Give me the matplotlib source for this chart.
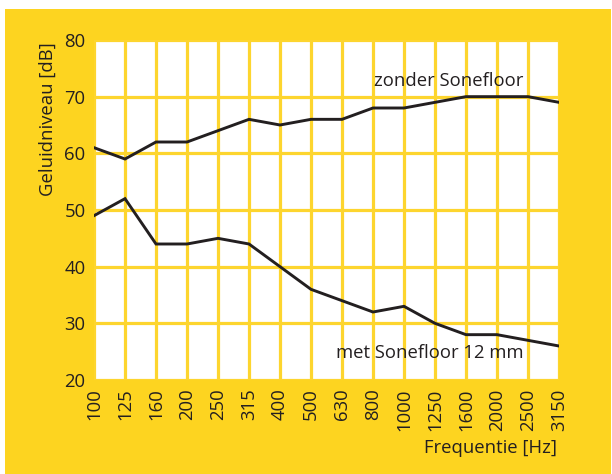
import matplotlib
matplotlib.use("Agg")
import matplotlib.pyplot as plt
from matplotlib.patches import Rectangle

frequencies = ["100", "125", "160", "200", "250", "315", "400", "500", "630",
               "800", "1000", "1250", "1600", "2000", "2500", "3150"]
zonder = [61, 59, 62, 62, 64, 66, 65, 66, 66, 68, 68, 69, 70, 70, 70, 69]
met = [49, 52, 44, 44, 45, 44, 40, 36, 34, 32, 33, 30, 28, 28, 27, 26]
y_ticks = [20, 30, 40, 50, 60, 70, 80]

YELLOW = "#FDD420"
GRID = "#FDD52E"
INK = "#231F20"
FS = 13.3

plt.rcParams["font.family"] = ["Open Sans", "DejaVu Sans"]

W, H = 612, 474
fig = plt.figure(figsize=(W / 100, H / 100), dpi=100)
fig.patch.set_facecolor("white")
fig.patches.append(Rectangle((5 / W, 0), (611 - 5) / W, (H - 9) / H,
                             transform=fig.transFigure, facecolor=YELLOW,
                             edgecolor="none", zorder=-10))

ax = fig.add_axes([94 / W, (H - 380) / H, (559 - 94) / W, (380 - 40) / H])
ax.set_facecolor("white")
x = list(range(len(frequencies)))
ax.plot(x, zonder, color=INK, lw=2.1, zorder=3, solid_joinstyle="miter")
ax.plot(x, met, color=INK, lw=2.1, zorder=3, solid_joinstyle="miter")

ax.set_xlim(0, len(frequencies) - 1)
ax.set_ylim(20, 80)
ax.set_xticks(x)
ax.set_xticklabels(frequencies, rotation=90, fontsize=FS, color=INK)
ax.set_yticks(y_ticks)
ax.set_yticklabels([str(v) for v in y_ticks], fontsize=FS, color=INK)
ax.tick_params(length=0, pad=6)
ax.grid(True, color=GRID, lw=2.3)
ax.set_axisbelow(True)
for s in ax.spines.values():
    s.set_visible(False)

ax.text(13.85, 71.9, "zonder Sonefloor", ha="right", va="baseline",
        fontsize=FS, color=INK, zorder=4)
ax.text(13.85, 23.9, "met Sonefloor 12 mm", ha="right", va="baseline",
        fontsize=FS, color=INK, zorder=4)

fig.text(48 / W, 1 - 42 / H, "Geluidniveau [dB]", rotation=90, ha="center",
         va="top", fontsize=FS, color=INK)
fig.text(557 / W, 1 - 448 / H, "Frequentie [Hz]", ha="right", va="center",
         fontsize=FS, color=INK)

fig.savefig("out.png", dpi=100, facecolor=fig.get_facecolor())
